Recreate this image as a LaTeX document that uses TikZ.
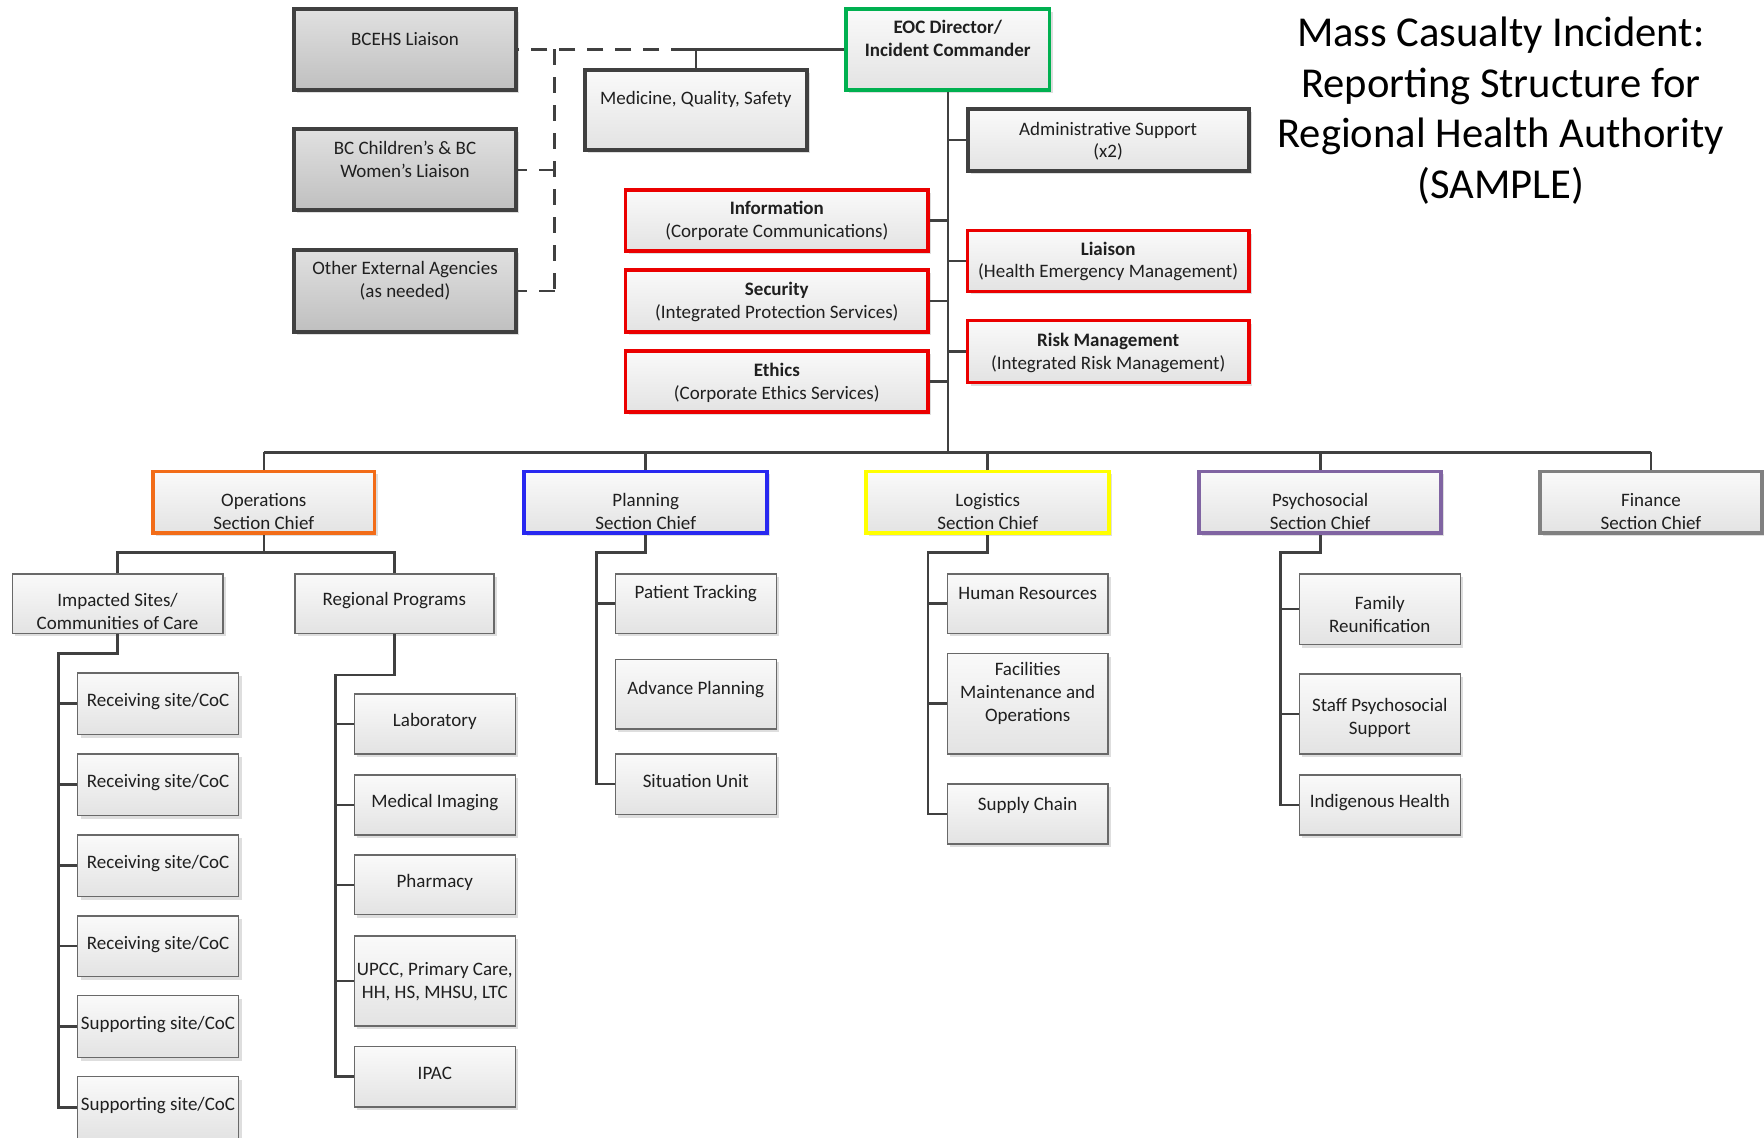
\documentclass[tikz,border=0pt]{standalone}
\usepackage{fontspec}
\setmainfont{Carlito}
\usetikzlibrary{shadows}
\definecolor{linegray}{RGB}{64,64,64}
\definecolor{thingray}{RGB}{105,105,105}
\definecolor{eocgreen}{RGB}{0,176,80}
\definecolor{cmdred}{RGB}{235,0,0}
\definecolor{opsorange}{RGB}{242,108,24}
\definecolor{planblue}{RGB}{40,40,240}
\definecolor{logyellow}{RGB}{255,255,0}
\definecolor{psypurple}{RGB}{128,100,162}
\definecolor{fingray}{RGB}{128,128,128}

% box with its label: style, name, x1, y1, x2, y2, label centre y, label
\newcommand\orgbox[8]{%
  \node[#1,minimum width={(#5-#3)*0.5625pt},minimum height={(#6-#4)*0.5625pt}]
    (#2) at ({(#3+#5)/2},{(#4+#6)/2}) {};
  \node[txt] (#2-txt) at ({(#3+#5)/2},{#7+1.5}) {#8};
}

\begin{document}
\begin{tikzpicture}[x=0.5625pt,y=-0.5625pt,
  conn/.style={draw=linegray,line width=1.3pt},
  dashconn/.style={conn,dash pattern=on 8pt off 6pt},
  basebox/.style={rectangle,inner sep=0pt,
    drop shadow={shadow xshift=1.5pt,shadow yshift=-1.5pt,fill=black!13,opacity=1}},
  light/.style={basebox,top color=white!98!black,bottom color=black!11},
  thinbox/.style={light,draw=thingray,line width=0.75pt},
  heavybox/.style={light,draw=linegray,line width=2pt},
  greybox/.style={basebox,top color=black!12,bottom color=black!25,draw=linegray,line width=2pt},
  chief/.style={light,draw=#1,line width=1.8pt},
  txt/.style={align=center,inner sep=0pt,text=black!88,font=\fontsize{9.5pt}{11.4pt}\selectfont},
]
\useasboundingbox (0,0) rectangle (1568,1011);

% title
\node[align=center,inner sep=0pt,text=black,font=\fontsize{21.3pt}{25.3pt}\selectfont]
  (title) at (1334,98.5) {Mass Casualty Incident:\\Reporting Structure for\\Regional Health Authority\\(SAMPLE)};

% command level
\orgbox{greybox}{bcehs}{261}{8}{459}{80}{33}{BCEHS Liaison}
\orgbox{greybox}{bcc}{261}{115}{459}{187}{140.5}{BC Children’s \& BC\\Women’s Liaison}
\orgbox{greybox}{oea}{261}{222}{459}{295}{248}{Other External Agencies\\(as needed)}
\orgbox{heavybox}{med}{520}{62}{717}{133}{87}{Medicine, Quality, Safety}
\orgbox{chief=eocgreen}{eoc}{752}{8}{933}{80}{32.5}{\textbf{EOC Director/}\\\textbf{Incident Commander}}
\orgbox{heavybox}{adm}{860}{97}{1110}{152}{124}{Administrative Support\\(x2)}
\orgbox{chief=cmdred}{inf}{556}{169}{825}{223}{195}{\textbf{Information}\\(Corporate Communications)}
\orgbox{chief=cmdred}{sec}{556}{240}{825}{295}{267}{\textbf{Security}\\(Integrated Protection Services)}
\orgbox{chief=cmdred}{eth}{556}{312}{825}{366}{339}{\textbf{Ethics}\\(Corporate Ethics Services)}
\orgbox{chief=cmdred}{lia}{860}{205}{1110}{259}{231}{\textbf{Liaison}\\(Health Emergency Management)}
\orgbox{chief=cmdred}{risk}{860}{285}{1110}{340}{312}{\textbf{Risk Management}\\(Integrated Risk Management)}

% section chiefs
\orgbox{chief=opsorange}{ops}{136}{419}{333}{474}{453}{Operations\\Section Chief}
\orgbox{chief=planblue}{plan}{466}{419}{682}{474}{453}{Planning\\Section Chief}
\orgbox{chief=logyellow}{log}{770}{419}{986}{474}{453}{Logistics\\Section Chief}
\orgbox{chief=psypurple}{psy}{1066}{419}{1281}{474}{453}{Psychosocial\\Section Chief}
\orgbox{chief=fingray}{fin}{1369}{419}{1566}{474}{453}{Finance\\Section Chief}

% operations
\orgbox{thinbox}{imp}{11}{510}{198}{563}{542}{Impacted Sites/\\Communities of Care}
\orgbox{thinbox}{reg}{262}{510}{439}{563}{532}{Regional Programs}
\orgbox{thinbox}{r1}{69}{598}{212}{653}{622}{Receiving site/CoC}
\orgbox{thinbox}{r2}{69}{670}{212}{725}{694}{Receiving site/CoC}
\orgbox{thinbox}{r3}{69}{742}{212}{797}{766}{Receiving site/CoC}
\orgbox{thinbox}{r4}{69}{814}{212}{868}{838}{Receiving site/CoC}
\orgbox{thinbox}{s5}{69}{885}{212}{940}{909}{Supporting site/CoC}
\orgbox{thinbox}{s6}{69}{957}{212}{1012}{981}{Supporting site/CoC}
\orgbox{thinbox}{lab}{315}{617}{458}{670}{640}{Laboratory}
\orgbox{thinbox}{mi}{315}{689}{458}{742}{712}{Medical Imaging}
\orgbox{thinbox}{ph}{315}{760}{458}{813}{783}{Pharmacy}
\orgbox{thinbox}{upcc}{315}{832}{458}{912}{871}{UPCC, Primary Care,\\HH, HS, MHSU, LTC}
\orgbox{thinbox}{ipac}{315}{930}{458}{984}{953}{IPAC}

% planning
\orgbox{thinbox}{pt}{547}{510}{690}{563}{526}{Patient Tracking}
\orgbox{thinbox}{ap}{547}{586}{690}{648}{611}{Advance Planning}
\orgbox{thinbox}{su}{547}{670}{690}{724}{693}{Situation Unit}

% logistics
\orgbox{thinbox}{hr}{842}{510}{985}{563}{526}{Human Resources}
\orgbox{thinbox}{fac}{842}{581}{985}{670}{615}{Facilities\\Maintenance and\\Operations}
\orgbox{thinbox}{sc}{842}{697}{985}{750}{714}{Supply Chain}

% psychosocial
\orgbox{thinbox}{fam}{1155}{510}{1298}{573}{545}{Family\\Reunification}
\orgbox{thinbox}{sps}{1155}{599}{1298}{670}{637}{Staff Psychosocial\\Support}
\orgbox{thinbox}{ih}{1155}{689}{1298}{742}{712}{Indigenous Health}

% command staff connectors
\coordinate (solidend) at (611,44);
\coordinate (dv) at (493,44);
\coordinate (bus) at (842.5,402);
\draw[conn] (eoc.west) -- (solidend);
\draw[conn] (med.north) -- (med.north |- eoc.west);
\draw[dashconn] (solidend) -- (bcehs.east);
\draw[dashconn] (dv) -- (dv |- oea.east);
\draw[dashconn] (bcc.east -| dv) -- (bcc.east);
\draw[dashconn] (oea.east -| dv) -- (oea.east);
\draw[conn] (eoc.south) -- (eoc.south |- bus);
\foreach \c in {adm,lia,risk} \draw[conn] (\c.west) -- (\c.west -| eoc.south);
\foreach \c in {inf,sec,eth} \draw[conn] (\c.east) -- (\c.east -| eoc.south);

% section bus
\draw[conn] (ops.north |- bus) -- (fin.north |- bus);
\foreach \c in {ops,plan,log,psy,fin} \draw[conn] (\c.north) -- (\c.north |- bus);

% operations branches
\coordinate (opsj) at (234.5,491);
\draw[conn] (ops.south) -- (opsj);
\draw[conn] (imp.north) |- (opsj) -| (reg.north);
\coordinate (ispine) at (52,581);
\draw[conn] (imp.south) |- (ispine) |- (s6.west);
\foreach \c in {r1,r2,r3,r4,s5} \draw[conn] (\c.west) -- (\c.west -| ispine);
\coordinate (rspine) at (298,600);
\draw[conn] (reg.south) |- (rspine) |- (ipac.west);
\foreach \c in {lab,mi,ph,upcc} \draw[conn] (\c.west) -- (\c.west -| rspine);

% planning branch
\coordinate (pspine) at (530,491);
\draw[conn] (plan.south) |- (pspine) |- (su.west);
\draw[conn] (pt.west) -- (pt.west -| pspine);

% logistics branch
\coordinate (lspine) at (825,491);
\draw[conn] (log.south) |- (lspine) |- (sc.west);
\foreach \c in {hr,fac} \draw[conn] (\c.west) -- (\c.west -| lspine);

% psychosocial branch
\coordinate (yspine) at (1138,491);
\draw[conn] (psy.south) |- (yspine) |- (ih.west);
\foreach \c in {fam,sps} \draw[conn] (\c.west) -- (\c.west -| yspine);
\end{tikzpicture}
\end{document}
